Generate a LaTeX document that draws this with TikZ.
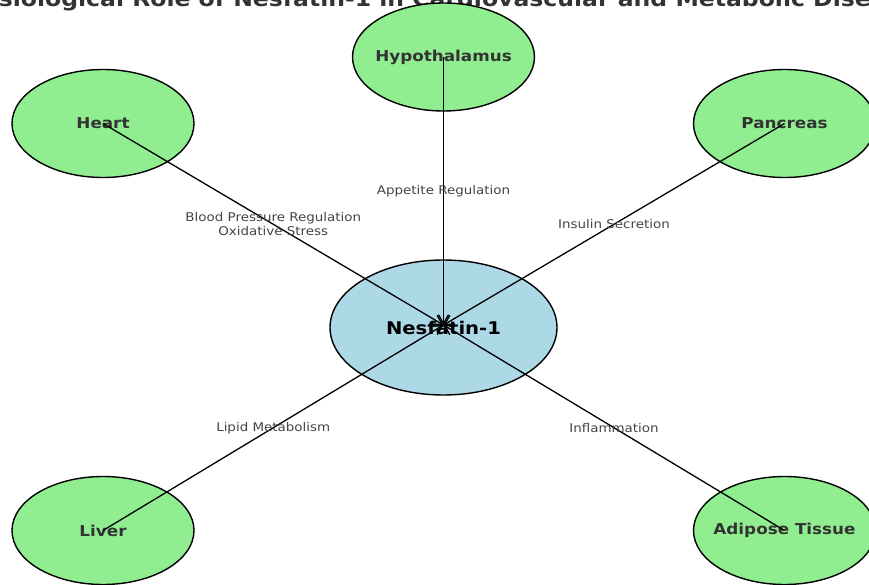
\documentclass[tikz,border=0pt]{standalone}
\usepackage{fontspec}
\setmainfont[FakeStretch=1.12]{DejaVu Sans}
\usetikzlibrary{shapes.geometric,arrows.meta}
\definecolor{organgreen}{HTML}{90EE90}
\definecolor{hubblue}{HTML}{ADD8E6}
\definecolor{labelgray}{HTML}{444444}
\definecolor{namegray}{HTML}{333333}

\begin{document}
\begin{tikzpicture}[x=1pt, y=-1pt,
		organ/.style={ellipse, draw=black, line width=1.4pt, fill=organgreen, minimum width=182pt, minimum height=108pt, inner sep=0pt},
		organname/.style={text=namegray, font=\fontsize{15}{18}\selectfont\bfseries},
		hub/.style={ellipse, draw=black, line width=1.4pt, fill=hubblue, minimum width=227pt, minimum height=135pt, inner sep=0pt},
		hubname/.style={text=black, font=\fontsize{17.5}{21}\selectfont\bfseries},
		link/.style={draw=black, line width=1.3pt, -{Straight Barb[length=9pt,width=10pt]}},
		effect/.style={text=labelgray, font=\fontsize{12}{13.5}\selectfont, align=center, inner sep=0pt}]
		\useasboundingbox (0,0) rectangle (869,585);
		\clip (0,0) rectangle (869,585);
		\node[anchor=base, font=\fontsize{21}{25}\selectfont\bfseries, text=namegray] (title) at (440,7) {Physiological Role of Nesfatin-1 in Cardiovascular and Metabolic Diseases};
		\node[hub, label={[hubname]center:Nesfatin-1}] (nesfatin) at (443.5,327.5) {};
		\node[organ, label={[organname]center:Hypothalamus}] (hypothalamus) at (443.5,57) {};
		\node[organ, label={[organname]center:Heart}] (heart) at (103,123.5) {};
		\node[organ, label={[organname]center:Pancreas}] (pancreas) at (784.5,123.5) {};
		\node[organ, label={[organname]center:Liver}] (liver) at (103,530.5) {};
		\node[organ, label={[organname]center:Adipose Tissue}] (adipose) at (784.5,530.5) {};
		\coordinate (target) at (443.5,325);
		\draw[link] (hypothalamus.center) -- (target) node[effect, midway] (appetite) {Appetite Regulation};
		\draw[link] (heart.center) -- (target) node[effect, midway] (pressure) {Blood Pressure Regulation\\Oxidative Stress};
		\draw[link] (pancreas.center) -- (target) node[effect, midway] (insulin) {Insulin Secretion};
		\draw[link] (liver.center) -- (target) node[effect, midway] (lipid) {Lipid Metabolism};
		\draw[link] (adipose.center) -- (target) node[effect, midway] (inflammation) {Inflammation};
	\end{tikzpicture}
\end{document}
